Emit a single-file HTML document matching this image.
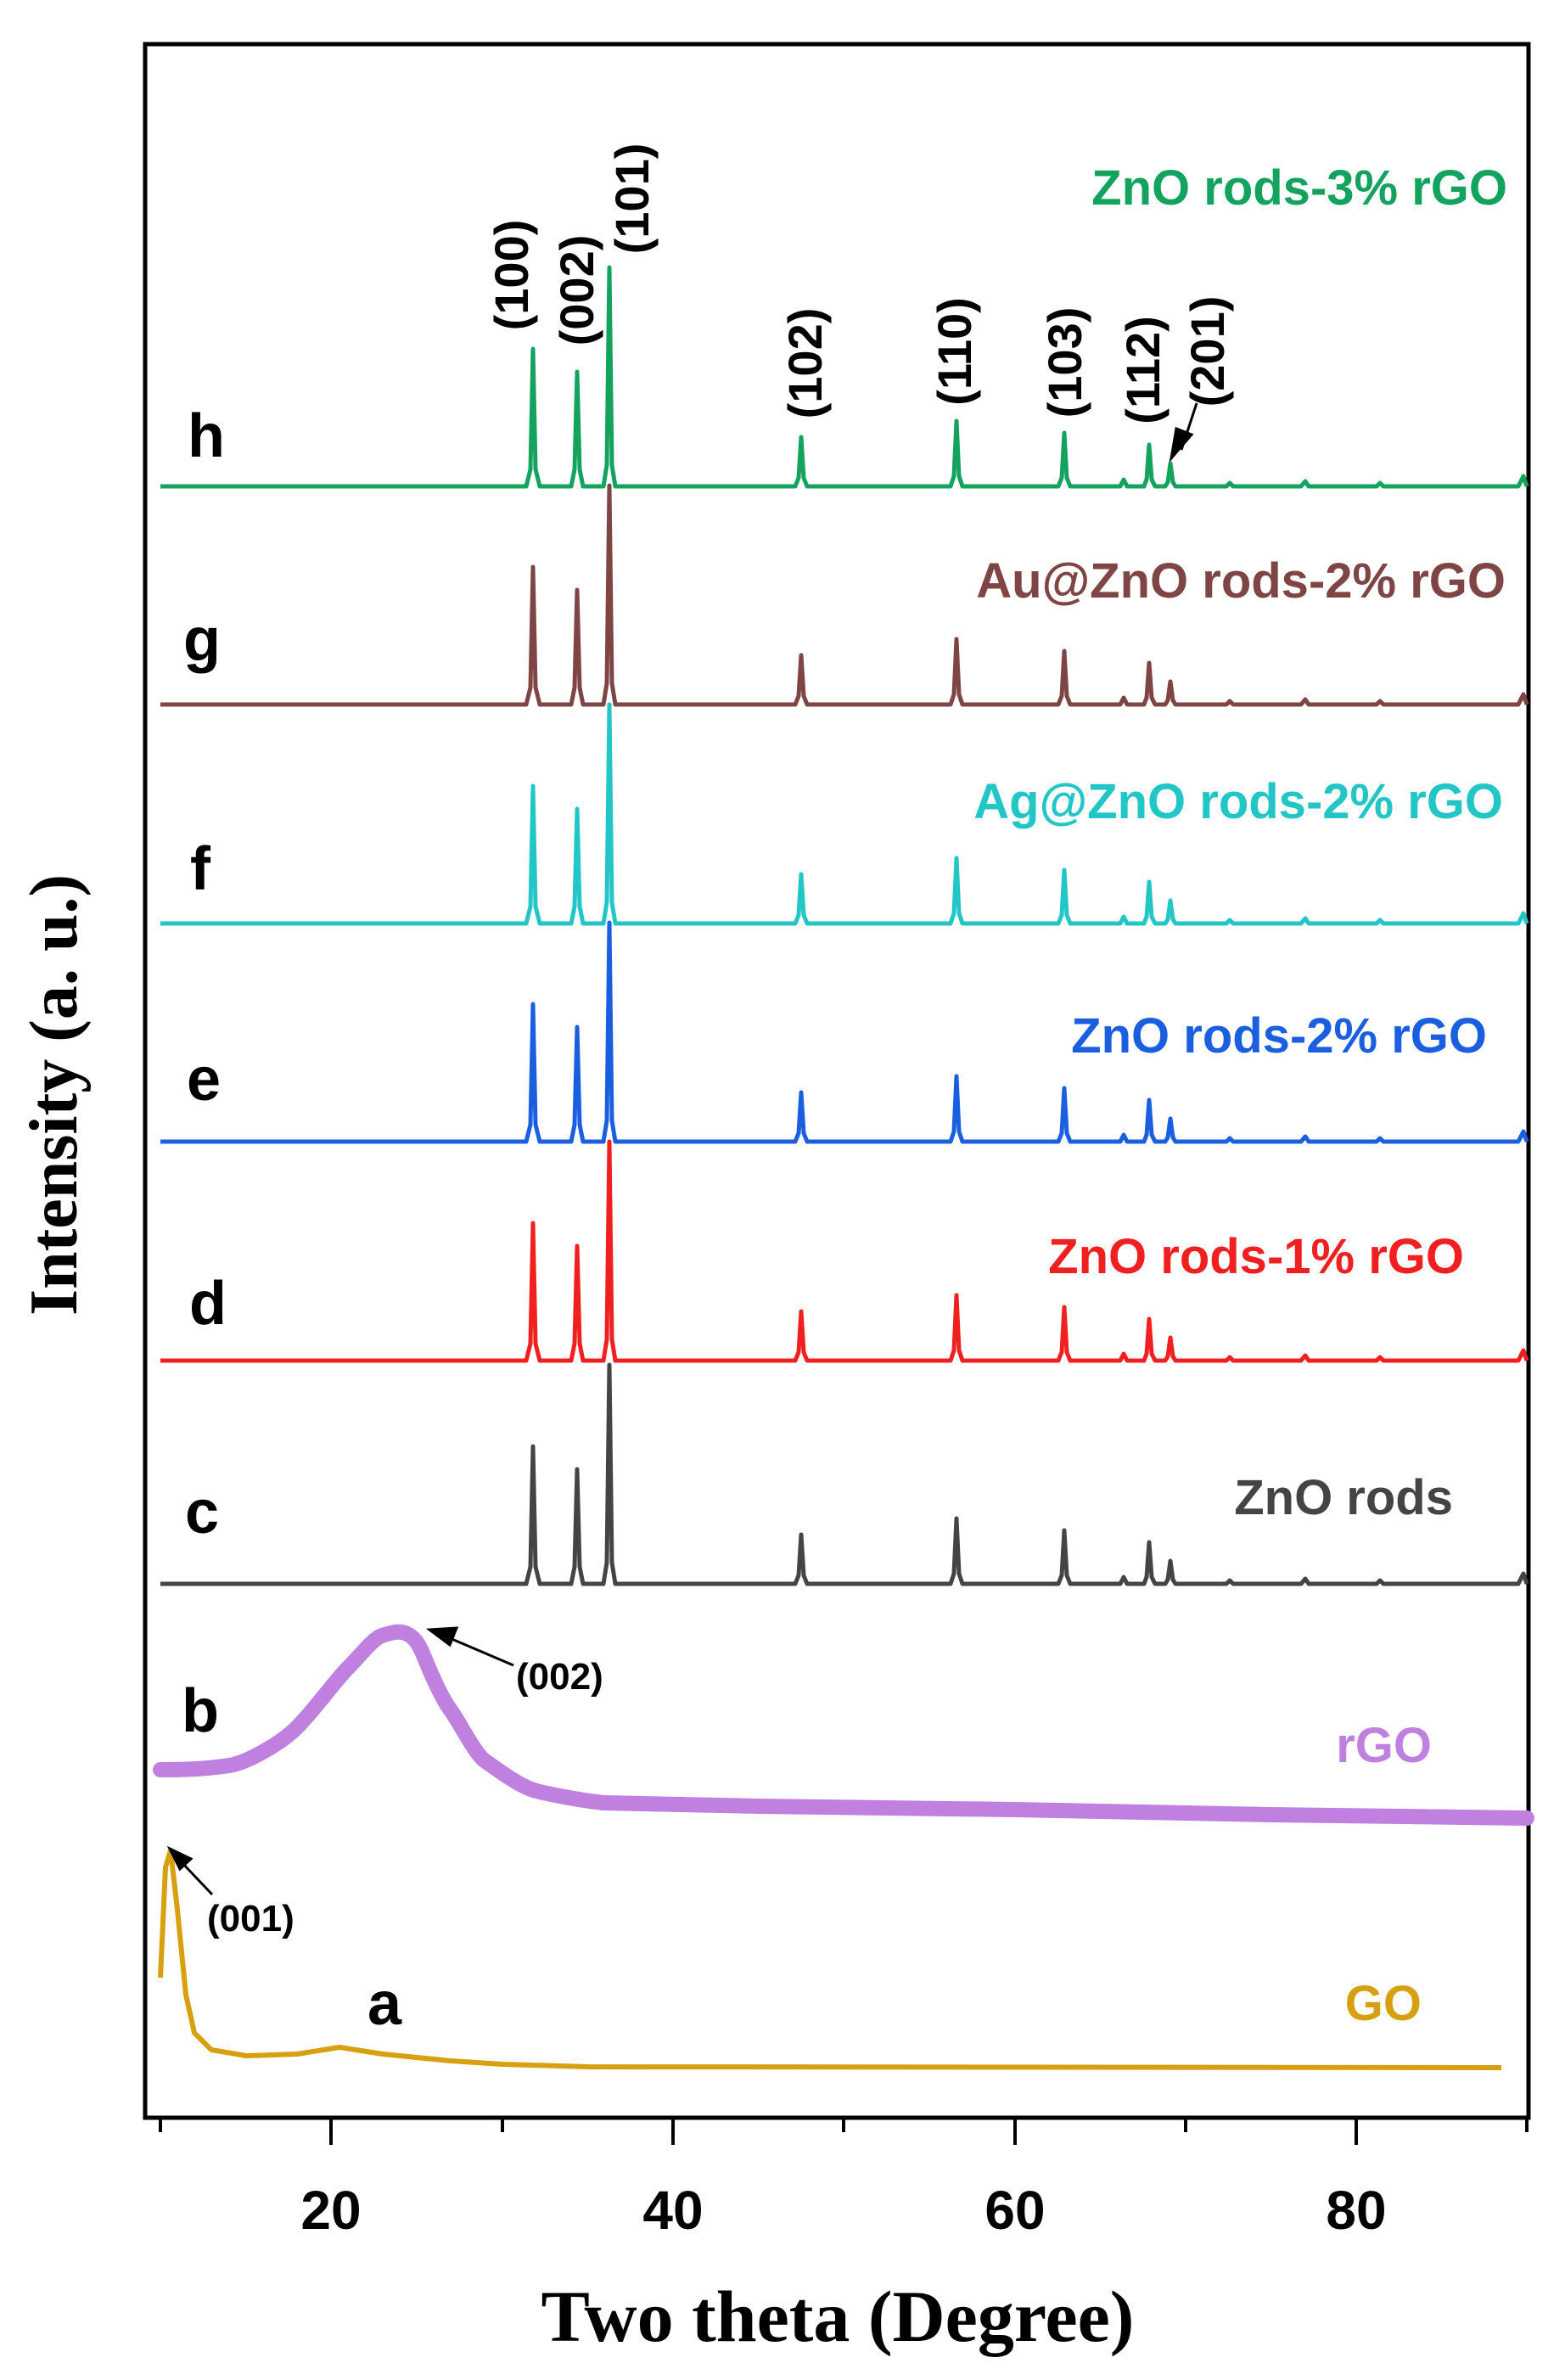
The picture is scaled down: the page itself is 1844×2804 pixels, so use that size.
<!DOCTYPE html>
<html><head><meta charset="utf-8"><style>
html,body{margin:0;padding:0;background:#fff;}
svg{display:block;}
.s{font-family:"Liberation Sans",Arial,sans-serif;font-weight:bold;}
.r{font-family:"Liberation Serif","Times New Roman",serif;font-weight:bold;}
</style></head><body>
<svg width="1844" height="2804" viewBox="0 0 1844 2804" xmlns="http://www.w3.org/2000/svg">
<defs>
<path id="zno" fill="none" stroke-width="5" stroke-linejoin="round" d="M189,0 L620,0 L625,-20 L628,-162 L631,-20 L636,0 L673,0 L677,-20 L680,-135 L683,-20 L687,0 L711,0 L715,-25 L718,-258 L721,-25 L725,0 L937,0 L941,-10 L944,-58 L947,-10 L951,0 L1120,0 L1124,-12 L1127,-77 L1130,-12 L1134,0 L1247,0 L1251,-10 L1254,-63 L1257,-10 L1261,0 L1320,0 L1324,-8 L1328,0 L1348,0 L1351,-8 L1354,-49 L1357,-8 L1361,0 L1373,0 L1376,-5 L1379,-27 L1382,-5 L1385,0 L1445,0 L1449,-4 L1453,0 L1533,0 L1538,-6 L1542,0 L1622,0 L1626,-4 L1630,0 L1789,0 L1795,-12 L1799,0"/>
</defs>
<rect x="171" y="52" width="1630" height="2443" fill="none" stroke="#000" stroke-width="5"/>
<g stroke="#000" stroke-width="4">
<line x1="189" y1="2495" x2="189" y2="2512"/><line x1="390" y1="2495" x2="390" y2="2527"/>
<line x1="592" y1="2495" x2="592" y2="2512"/><line x1="793" y1="2495" x2="793" y2="2527"/>
<line x1="994" y1="2495" x2="994" y2="2512"/><line x1="1196" y1="2495" x2="1196" y2="2527"/>
<line x1="1397" y1="2495" x2="1397" y2="2512"/><line x1="1598" y1="2495" x2="1598" y2="2527"/>
<line x1="1799" y1="2495" x2="1799" y2="2512"/>
</g>
<use href="#zno" transform="translate(0,573)" stroke="#14a35e"/>
<use href="#zno" transform="translate(0,830)" stroke="#7f4545"/>
<use href="#zno" transform="translate(0,1088)" stroke="#22c6c6"/>
<use href="#zno" transform="translate(0,1345)" stroke="#1a5fe0"/>
<use href="#zno" transform="translate(0,1603)" stroke="#f02020"/>
<use href="#zno" transform="translate(0,1866)" stroke="#444444"/>
<path fill="none" stroke="#c080e0" stroke-width="18" stroke-linejoin="round" stroke-linecap="round" d="M189,2085 C230,2085 250,2083 270,2080 S330,2055 350,2035 S395,1980 410,1965 S440,1930 450,1927 S470,1920 480,1925 S495,1940 501,1955 S520,2000 531,2015 S560,2067 572,2075 S612,2105 632,2110 S690,2122 712,2124 L893,2128 L1196,2132 L1497,2138 L1799,2142"/>
<path fill="none" stroke="#d6a010" stroke-width="6" stroke-linejoin="round" d="M189,2330 L195,2200 L201,2180 L209,2250 L219,2350 L229,2395 L249,2415 L290,2422 L350,2420 L400,2412 L451,2420 L531,2428 L592,2432 L692,2435 L1769,2436"/>
<g class="s" font-size="64" text-anchor="middle" fill="#000">
<text x="390" y="2626">20</text><text x="793" y="2626">40</text><text x="1196" y="2626">60</text><text x="1598" y="2626">80</text>
</g>
<text class="r" x="987" y="2758" font-size="86" text-anchor="middle">Two theta (Degree)</text>
<text class="r" transform="translate(90,1290) rotate(-90)" font-size="80" text-anchor="middle">Intensity (a. u.)</text>
<g class="s" font-size="72" fill="#000" text-anchor="middle">
<text x="243" y="538">h</text><text x="238" y="778">g</text><text x="236" y="1048">f</text><text x="240" y="1296">e</text>
<text x="245" y="1560">d</text><text x="238" y="1806">c</text><text x="236" y="2040">b</text><text x="453" y="2385">a</text>
</g>
<g class="s" font-size="58" text-anchor="end">
<text x="1776" y="241" fill="#14a35e">ZnO rods-3% rGO</text>
<text x="1774" y="704" fill="#7f4545">Au@ZnO rods-2% rGO</text>
<text x="1771" y="964" fill="#22c6c6">Ag@ZnO rods-2% rGO</text>
<text x="1752" y="1240" fill="#1a5fe0">ZnO rods-2% rGO</text>
<text x="1725" y="1500" fill="#f02020">ZnO rods-1% rGO</text>
<text x="1712" y="1784" fill="#444">ZnO rods</text>
<text x="1687" y="2076" fill="#c080e0">rGO</text>
<text x="1675" y="2380" fill="#d6a010">GO</text>
</g>
<g class="s" font-size="56" fill="#000" text-anchor="middle">
<text transform="translate(622,324) rotate(-90)">(100)</text>
<text transform="translate(699,342) rotate(-90)">(002)</text>
<text transform="translate(764,234) rotate(-90)">(101)</text>
<text transform="translate(968,428) rotate(-90)">(102)</text>
<text transform="translate(1144,414) rotate(-90)">(110)</text>
<text transform="translate(1274,427) rotate(-90)">(103)</text>
<text transform="translate(1366,436) rotate(-90)">(112)</text>
<text transform="translate(1442,414) rotate(-90)">(201)</text>
</g>
<g class="s" font-size="44" fill="#000">
<text x="608" y="1990">(002)</text>
<text x="244" y="2275">(001)</text>
</g>
<g stroke="#000" stroke-width="3" fill="#000">
<line x1="1410" y1="475" x2="1392" y2="530"/><polygon points="1380,540 1386,505 1404,512"/>
<line x1="605" y1="1962" x2="530" y2="1930"/><polygon points="506,1920 538,1918 530,1938"/>
<line x1="250" y1="2232" x2="212" y2="2192"/><polygon points="200,2178 225,2190 212,2202"/>
</g>
</svg>
</body></html>
